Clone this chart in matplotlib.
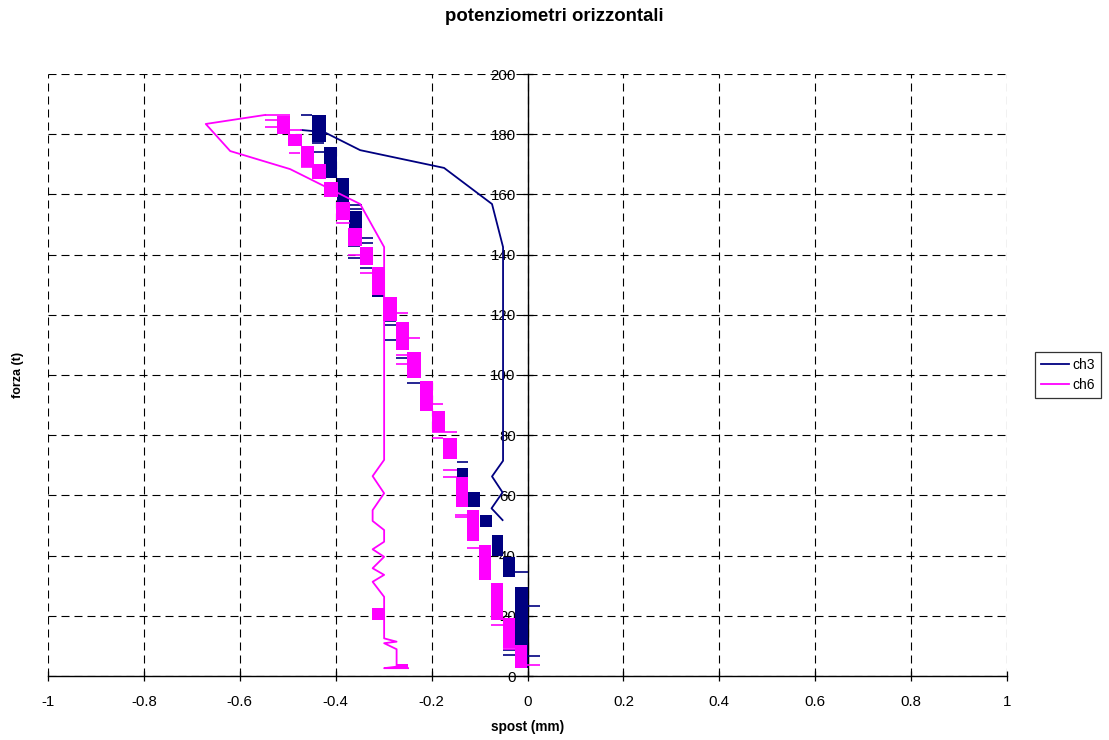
import matplotlib
matplotlib.use("Agg")
import matplotlib.pyplot as plt

plt.rcParams['font.family'] = ['Liberation Sans', 'DejaVu Sans']

NAVY = "#000080"
PINK = "#ff00ff"

# ch3: held load steps (x_lo, x_hi, y_lo, y_hi)
ch3_steps = [
    (-0.026, 0.001, 2.7, 29.6),
    (-0.074, -0.051, 19.0, 22.0),
    (-0.051, -0.026, 33.0, 39.5),
    (-0.074, -0.051, 40.0, 47.0),
    (-0.099, -0.074, 49.5, 53.5),
    (-0.124, -0.099, 56.0, 61.0),
    (-0.147, -0.124, 64.0, 69.0),
    (-0.324, -0.297, 126.0, 129.5),
    (-0.372, -0.345, 149.0, 154.5),
    (-0.397, -0.372, 157.5, 165.4),
    (-0.424, -0.397, 165.4, 175.7),
    (-0.449, -0.420, 177.4, 186.4),
]
# ch3: single readings (y, x0, x1)
ch3_ticks = [
    (186.4, -0.472, -0.449), (177.0, -0.449, -0.424), (174.0, -0.449, -0.424),
    (167.0, -0.424, -0.397), (156.5, -0.372, -0.345), (155.0, -0.372, -0.345),
    (145.5, -0.345, -0.322), (144.0, -0.345, -0.322), (143.0, -0.374, -0.349),
    (139.0, -0.374, -0.349), (137.0, -0.349, -0.324), (135.5, -0.349, -0.324),
    (118.0, -0.297, -0.274), (116.6, -0.297, -0.274), (111.6, -0.297, -0.274),
    (109.0, -0.274, -0.251), (105.6, -0.274, -0.251), (97.3, -0.251, -0.224),
    (90.7, -0.224, -0.199), (86.0, -0.199, -0.172), (81.7, -0.199, -0.172),
    (78.4, -0.172, -0.147), (75.7, -0.172, -0.147), (71.0, -0.147, -0.124),
    (34.5, -0.026, 0.0), (23.3, 0.0, 0.026), (8.6, -0.051, -0.026),
    (7.0, -0.051, -0.026), (6.6, 0.0, 0.026),
]
# ch3: unloading branch
ch3_x = [-0.472, -0.424, -0.349, -0.174, -0.074, -0.051, -0.051,
         -0.074, -0.052, -0.075, -0.052]
ch3_y = [181.4, 180.7, 174.7, 168.8, 156.8, 142.5, 71.5,
         66.3, 61.0, 55.7, 51.8]

# ch6: held load steps
ch6_steps = [
    (-0.026, -0.001, 2.7, 10.3),
    (-0.051, -0.026, 9.3, 19.3),
    (-0.076, -0.051, 18.6, 31.0),
    (-0.101, -0.076, 32.0, 43.5),
    (-0.126, -0.101, 45.0, 55.0),
    (-0.150, -0.124, 56.0, 66.0),
    (-0.176, -0.147, 72.0, 79.0),
    (-0.199, -0.172, 81.0, 88.0),
    (-0.224, -0.197, 88.0, 98.0),
    (-0.251, -0.222, 99.0, 107.6),
    (-0.274, -0.247, 108.3, 117.6),
    (-0.301, -0.272, 118.0, 126.0),
    (-0.324, -0.297, 126.6, 136.0),
    (-0.349, -0.322, 136.5, 142.5),
    (-0.374, -0.345, 143.0, 149.0),
    (-0.399, -0.370, 151.5, 157.5),
    (-0.424, -0.395, 159.0, 164.0),
    (-0.449, -0.420, 165.0, 170.0),
    (-0.472, -0.445, 169.0, 176.0),
    (-0.499, -0.470, 176.0, 180.0),
    (-0.522, -0.495, 180.0, 186.0),
    (-0.324, -0.299, 18.5, 22.5),
    (-0.273, -0.249, 2.4, 4.0),
]
ch6_ticks = [
    (186.4, -0.547, -0.495), (184.7, -0.547, -0.495), (182.4, -0.547, -0.510),
    (181.4, -0.495, -0.470), (173.7, -0.497, -0.474), (169.0, -0.472, -0.447),
    (150.5, -0.399, -0.370), (140.0, -0.374, -0.349), (134.0, -0.349, -0.324),
    (120.6, -0.272, -0.249), (112.3, -0.249, -0.224), (106.6, -0.274, -0.249),
    (103.7, -0.274, -0.249), (90.4, -0.199, -0.176), (81.0, -0.199, -0.147),
    (79.0, -0.199, -0.176), (68.4, -0.176, -0.147), (66.0, -0.176, -0.147),
    (53.5, -0.151, -0.126), (52.8, -0.151, -0.126), (47.0, -0.126, -0.101),
    (42.5, -0.126, -0.101), (32.6, -0.101, -0.076), (17.0, -0.076, -0.051),
    (9.6, -0.051, -0.026), (9.0, -0.051, -0.026), (3.7, -0.026, 0.026),
]
ch6_x = [-0.547, -0.671, -0.620, -0.495, -0.349, -0.299, -0.299,
         -0.323, -0.299, -0.323, -0.323, -0.299, -0.299, -0.323, -0.299,
         -0.323, -0.299, -0.323, -0.299, -0.299, -0.299, -0.273, -0.299,
         -0.273, -0.273, -0.299, -0.249]
ch6_y = [186.4, 183.4, 174.4, 168.4, 156.8, 142.5, 71.8,
         66.4, 60.7, 55.1, 51.5, 48.5, 44.6, 42.1, 39.6,
         35.8, 33.6, 31.3, 26.3, 22.5, 12.5, 11.4, 10.9,
         8.9, 3.1, 2.6, 2.6]


def draw_channel(ax, steps, ticks, xs, ys, color, label, z):
    for x0, x1, y0, y1 in steps:
        ax.bar(x0, y1 - y0, width=x1 - x0, bottom=y0, align='edge',
               color=color, linewidth=0, zorder=z)
    ax.hlines([t[0] for t in ticks], [t[1] for t in ticks], [t[2] for t in ticks],
              color=color, linewidth=1.2, zorder=z)
    ax.plot(xs, ys, color=color, linewidth=1.3, label=label, zorder=z + 0.1)


fig = plt.figure(figsize=(11.09, 7.40), dpi=100)
ax = fig.add_axes([48 / 1109, 1 - 676 / 740, 959 / 1109, 602 / 740])

draw_channel(ax, ch3_steps, ch3_ticks, ch3_x, ch3_y, NAVY, "ch3", 2.0)
draw_channel(ax, ch6_steps, ch6_ticks, ch6_x, ch6_y, PINK, "ch6", 2.5)

ax.set_xlim(-1, 1)
ax.set_ylim(0, 200)
ax.set_xticks([-1, -0.8, -0.6, -0.4, -0.2, 0, 0.2, 0.4, 0.6, 0.8, 1])
ax.set_xticklabels(["-1", "-0.8", "-0.6", "-0.4", "-0.2", "0", "0.2", "0.4", "0.6", "0.8", "1"])
ax.set_yticks(range(0, 201, 20))

for side in ["top", "right"]:
    ax.spines[side].set_visible(False)
ax.spines["left"].set_position(("data", 0))
ax.spines["left"].set_linewidth(1.0)
ax.spines["bottom"].set_linewidth(1.0)
ax.spines["left"].set_zorder(1.6)

ax.grid(True, color="black", linestyle=(0, (7.2, 4.5)), linewidth=0.8)
ax.tick_params(direction="inout", length=7, width=0.9, labelsize=10.8, pad=5)
ax.tick_params(axis="x", pad=10)

ax.set_xlabel("spost (mm)", fontsize=9.8, fontweight="bold", labelpad=8)
ax.set_ylabel("forza (t)", fontsize=9, fontweight="bold")
ax.yaxis.set_label_coords(-0.025, 0.5)
fig.text(0.5, 0.978, "potenziometri orizzontali", ha="center", va="center",
         fontsize=13.4, fontweight="bold")

leg = ax.legend(loc="center", bbox_to_anchor=(1068 / 1109, 1 - 375 / 740),
                bbox_transform=fig.transFigure, fontsize=10, frameon=True,
                fancybox=False, handlelength=2.0, borderpad=0.4,
                labelspacing=0.45, handletextpad=0.3, borderaxespad=0)
leg.get_frame().set_edgecolor("black")
leg.get_frame().set_linewidth(0.9)

fig.savefig("out.png", dpi=100)
